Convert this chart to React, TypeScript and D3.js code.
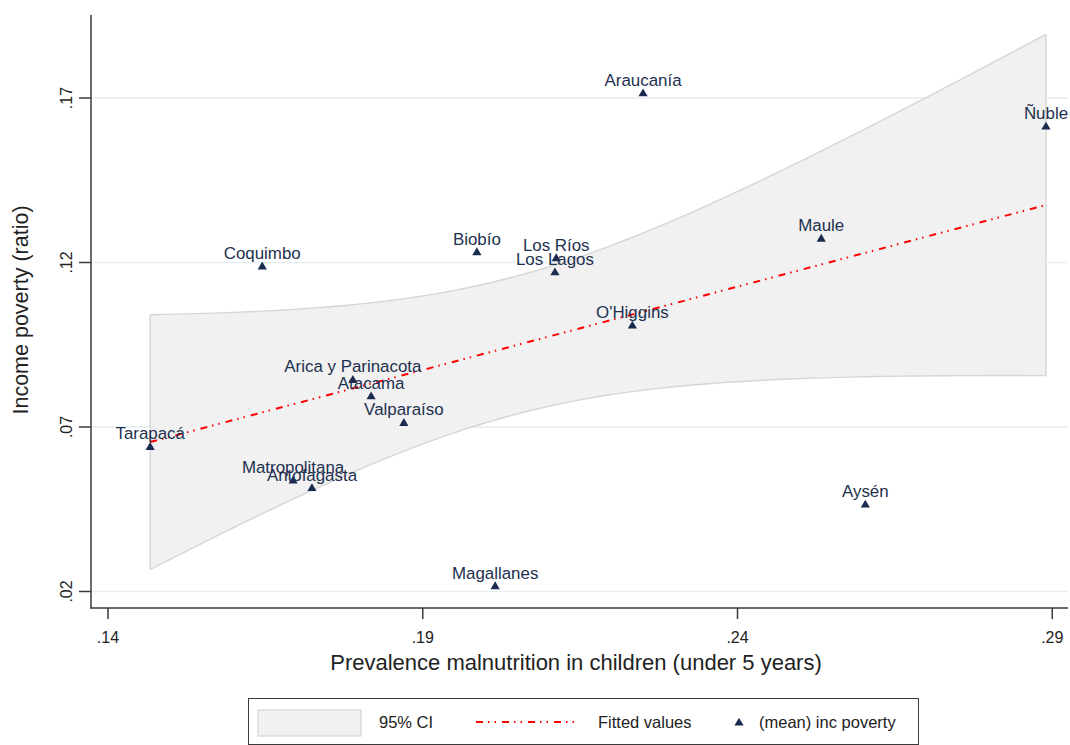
import React from 'react';
import * as d3 from 'd3';

// Regional averages: child malnutrition prevalence vs. income poverty
const regions = [
  'Tarapacá', 'Coquimbo', 'Arica y Parinacota', 'Atacama', 'Valparaíso',
  'Matropolitana', 'Antofagasta', 'Biobío', 'Los Ríos', 'Los Lagos',
  'Magallanes', 'Araucanía', "O'Higgins", 'Maule', 'Aysén', 'Ñuble',
];
const malnutrition = [
  0.1467, 0.1645, 0.1789, 0.1818, 0.1870,
  0.1694, 0.1724, 0.1986, 0.2112, 0.2110,
  0.2015, 0.2250, 0.2233, 0.2533, 0.2603, 0.2890,
];
const incomePoverty = [
  0.0641, 0.1190, 0.0845, 0.0795, 0.0714,
  0.0539, 0.0516, 0.1233, 0.1215, 0.1172,
  0.0218, 0.1716, 0.1010, 0.1274, 0.0466, 0.1615,
];
const xTicks = [0.14, 0.19, 0.24, 0.29];
const yTicks = [0.02, 0.07, 0.12, 0.17];
const xTickLabels = ['.14', '.19', '.24', '.29'];
const yTickLabels = ['.02', '.07', '.12', '.17'];

const FONT = '"Liberation Sans", Arial, Helvetica, sans-serif';
const NAVY = '#1b2a50';
const LABEL = '#22304f';
const AXIS = '#3a3a3a';
const GRID = '#e6eef1';
const T_CRIT_14 = 2.1448; // t(0.975, df = n - 2 = 14)

const TRIANGLE = 'M0,-4.3L4.6,3.6L-4.6,3.6Z';

function fitLine(xs: number[], ys: number[]) {
  const n = xs.length;
  const mx = d3.mean(xs)!;
  const my = d3.mean(ys)!;
  let sxx = 0, sxy = 0;
  xs.forEach((x, i) => { sxx += (x - mx) ** 2; sxy += (x - mx) * (ys[i] - my); });
  const b = sxy / sxx;
  const a = my - b * mx;
  let ssr = 0;
  xs.forEach((x, i) => { ssr += (ys[i] - (a + b * x)) ** 2; });
  const s = Math.sqrt(ssr / (n - 2));
  const predict = (x: number) => a + b * x;
  const halfWidth = (x: number) => T_CRIT_14 * s * Math.sqrt(1 / n + (x - mx) ** 2 / sxx);
  return { predict, halfWidth };
}

export default function App() {
  const x = d3.scaleLinear().domain([0.1373, 0.2925]).range([91, 1068]);
  const y = d3.scaleLinear().domain([0.01498, 0.19523]).range([608, 15]);

  const { predict, halfWidth } = fitLine(malnutrition, incomePoverty);
  const [xmin, xmax] = d3.extent(malnutrition) as [number, number];
  const grid = d3.range(0, 101).map((i) => xmin + ((xmax - xmin) * i) / 100);

  const band = d3.area<number>()
    .x((v) => x(v))
    .y0((v) => y(predict(v) - halfWidth(v)))
    .y1((v) => y(predict(v) + halfWidth(v)));
  const upper = d3.line<number>().x((v) => x(v)).y((v) => y(predict(v) + halfWidth(v)))(grid)!;
  const lower = d3.line<number>().x((v) => x(v)).y((v) => y(predict(v) - halfWidth(v)))(grid)!;
  const fitted = d3.line<number>().x((v) => x(v)).y((v) => y(predict(v)))([xmin, xmax])!;

  const dash = '7 5 1.5 5 1.5 6';

  return (
    <svg width={1070} height={745} style={{ position: 'absolute', left: 0, top: 0, background: '#fff' }}
      fontFamily={FONT}>
      <rect x={0} y={0} width={1070} height={745} fill="#fff" />

      {/* horizontal grid */}
      {yTicks.map((t) => (
        <line key={t} x1={91} x2={1068} y1={y(t)} y2={y(t)} stroke={GRID} strokeWidth={1.5} />
      ))}

      {/* 95% confidence band */}
      <path d={band(grid)!} fill="#f1f1f1" stroke="none" />
      <path d={upper} fill="none" stroke="#d6d6d6" strokeWidth={1.4} />
      <path d={lower} fill="none" stroke="#d6d6d6" strokeWidth={1.4} />
      <line x1={x(xmin)} x2={x(xmin)} y1={y(predict(xmin) + halfWidth(xmin))} y2={y(predict(xmin) - halfWidth(xmin))}
        stroke="#d6d6d6" strokeWidth={1.4} />
      <line x1={x(xmax)} x2={x(xmax)} y1={y(predict(xmax) + halfWidth(xmax))} y2={y(predict(xmax) - halfWidth(xmax))}
        stroke="#d6d6d6" strokeWidth={1.4} />

      {/* fitted values */}
      <path d={fitted} fill="none" stroke="#ff0000" strokeWidth={2} strokeDasharray={dash} />

      {/* points and labels */}
      {regions.map((r, i) => (
        <g key={r} transform={`translate(${x(malnutrition[i])},${y(incomePoverty[i])})`}>
          <path d={TRIANGLE} fill={NAVY} />
          <text y={-7} textAnchor="middle" fontSize={16.9} fill={LABEL}>{r}</text>
        </g>
      ))}

      {/* axes */}
      <line x1={91} x2={91} y1={15} y2={608.5} stroke={AXIS} strokeWidth={1.5} />
      <line x1={90.5} x2={1068} y1={608} y2={608} stroke={AXIS} strokeWidth={1.5} />
      {yTicks.map((t, i) => (
        <g key={t}>
          <line x1={79} x2={91} y1={y(t)} y2={y(t)} stroke={AXIS} strokeWidth={1.5} />
          <text transform={`translate(72,${y(t)}) rotate(-90)`} textAnchor="middle" fontSize={16} fill="#222">
            {yTickLabels[i]}
          </text>
        </g>
      ))}
      {xTicks.map((t, i) => (
        <g key={t}>
          <line x1={x(t)} x2={x(t)} y1={608} y2={619} stroke={AXIS} strokeWidth={1.5} />
          <text x={x(t)} y={643} textAnchor="middle" fontSize={16} fill="#222">{xTickLabels[i]}</text>
        </g>
      ))}
      <text x={576} y={670} textAnchor="middle" fontSize={22} fill="#222">
        Prevalence malnutrition in children (under 5 years)
      </text>
      <text transform="translate(28,310) rotate(-90)" textAnchor="middle" fontSize={21.5} fill="#222">
        Income poverty (ratio)
      </text>

      {/* legend */}
      <rect x={248.5} y={698.5} width={670} height={46} fill="#fff" stroke={AXIS} strokeWidth={1} />
      <rect x={258} y={710} width={103} height={26} fill="#f1f1f1" stroke="#d6d6d6" strokeWidth={1.2} />
      <text x={379} y={728} fontSize={16.5} fill="#222">95% CI</text>
      <line x1={476} x2={578} y1={722} y2={722} stroke="#ff0000" strokeWidth={2} strokeDasharray={dash} />
      <text x={598} y={728} fontSize={16.5} fill="#222">Fitted values</text>
      <path d={TRIANGLE} transform="translate(739,722)" fill={NAVY} />
      <text x={759} y={728} fontSize={16.5} fill="#222">(mean) inc poverty</text>
    </svg>
  );
}
